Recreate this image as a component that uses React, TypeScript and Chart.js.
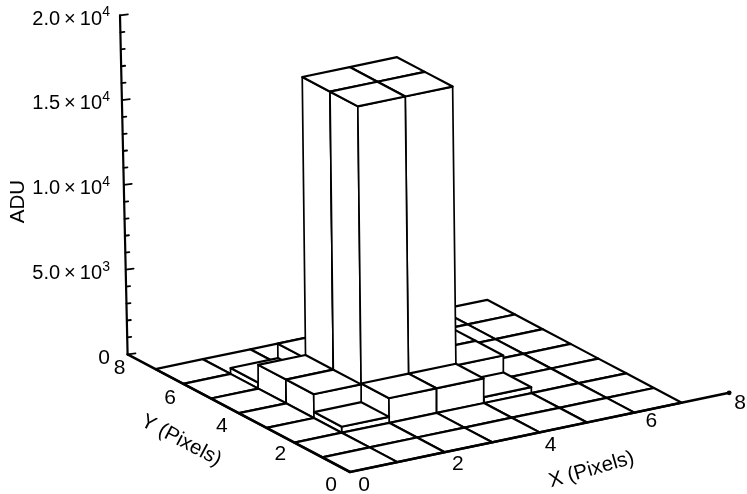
import React, { useEffect, useRef } from "react";
import { Chart, registerables } from "chart.js";

Chart.register(...registerables);

// ADU per detector cell; rows run y = 0..6, columns x = 0..6
const rowY0 = [0, 0, 0, 0, 0, 0, 0];
const rowY1 = [0, 0, 0, 0, 0, 0, 0];
const rowY2 = [0, 350, 1450, 1450, 350, 0, 0];
const rowY3 = [0, 1400, 17800, 17800, 1350, 0, 0];
const rowY4 = [0, 1400, 17800, 17800, 1350, 0, 0];
const rowY5 = [0, 350, 1200, 1250, 350, 0, 0];
const rowY6 = [0, 0, 0, 0, 0, 0, 0];
const rows = [rowY0, rowY1, rowY2, rowY3, rowY4, rowY5, rowY6];

const zMajorTicks = [0, 5000, 10000, 15000, 20000];
const zMinorTicks = [1000, 2000, 3000, 4000, 6000, 7000, 8000, 9000, 11000, 12000, 13000, 14000, 16000, 17000, 18000, 19000];
const zTickMantissa = ["0", "5.0", "1.0", "1.5", "2.0"];
const zTickExponent = ["", "3", "4", "4", "4"];
const xTickLabels = [0, 2, 4, 6, 8];
const yTickLabels = [0, 2, 4, 6, 8];
const axisMax = 8;

// oblique projection of (x, y, adu) onto the page plane
const view = { ox: 350, oy: 472, xx: 47.4, xy: -9.9, yx: -27.8, yy: -14.7, zy: -0.01695, barLean: -0.0002, axisLean: -0.00038 };

// label nudges from their tick, same order as the tick label lists
const xLabelDx = [14, 13, 11, 17, 11];
const xLabelDy = [11, 10, 11, 7, 9];
const yLabelDx = [-19, -14, -17, -13, -8];
const yLabelDy = [11, 10, 11, 13, 12];

type P = { x: number; y: number };
const project = (x: number, y: number, z = 0, lean = view.barLean): P => ({
  x: view.ox + view.xx * x + view.yx * y + lean * z,
  y: view.oy + view.xy * x + view.yy * y + view.zy * z,
});

const poly = (pts: P[], width: number) => ({
  data: [...pts, pts[0]],
  borderColor: "#000000",
  backgroundColor: "#ffffff",
  borderWidth: width,
  fill: "shape",
  tension: 0,
  pointRadius: 0,
  showLine: true,
  borderJoinStyle: "round",
});
const stroke = (pts: P[], width: number) => ({
  data: pts,
  borderColor: "#000000",
  borderWidth: width,
  fill: false,
  tension: 0,
  pointRadius: 0,
  showLine: true,
  borderCapStyle: "round",
});

function buildDatasets() {
  const drawn: any[] = [];
  const cells: { x: number; y: number; h: number }[] = [];
  rows.forEach((row, y) => row.forEach((h, x) => cells.push({ x, y, h })));
  cells.sort((a, b) => b.x + b.y - (a.x + a.y));
  for (const { x, y, h } of cells) {
    if (h > 0) {
      drawn.push(poly([project(x, y), project(x, y + 1), project(x, y + 1, h), project(x, y, h)], 1.7));
      drawn.push(poly([project(x, y), project(x + 1, y), project(x + 1, y, h), project(x, y, h)], 1.7));
    }
    drawn.push(poly([project(x, y, h), project(x + 1, y, h), project(x + 1, y + 1, h), project(x, y + 1, h)], 2.2));
  }
  // axes
  drawn.push(stroke([project(0, 0), project(axisMax, 0)], 2.6));
  drawn.push(stroke([project(0, 0), project(0, axisMax)], 2.6));
  drawn.push(stroke([project(0, axisMax, 0, 0), project(0, axisMax, zMajorTicks[4], view.axisLean)], 2.2));
  for (const z of zMajorTicks) {
    const a = project(0, axisMax, z, view.axisLean);
    drawn.push(stroke([a, { x: a.x + 8, y: a.y - 1 }], 1.6));
  }
  for (const z of zMinorTicks) {
    const a = project(0, axisMax, z, view.axisLean);
    drawn.push(stroke([a, { x: a.x + 4, y: a.y - 0.5 }], 1.8));
  }
  // arrow head at the end of the X axis
  const tip = project(axisMax, 0);
  drawn.push({
    data: [tip],
    pointStyle: "circle",
    pointRadius: 2.4,
    pointBackgroundColor: "#000000",
    pointBorderWidth: 0,
    showLine: false,
  });
  return drawn.reverse();
}

const FONT = '"Liberation Sans", Arial, sans-serif';

const labelsPlugin = {
  id: "pictureLabels",
  afterDatasetsDraw(chart: any) {
    const { ctx, scales } = chart;
    const px = (p: P) => ({ x: scales.x.getPixelForValue(p.x), y: scales.y.getPixelForValue(p.y) });
    // cy is the vertical centre of the digits / capitals
    const put = (text: string, x: number, cy: number, size: number) => {
      ctx.font = `${size}px ${FONT}`;
      ctx.fillText(text, x, cy + size * 0.36);
    };
    ctx.save();
    ctx.fillStyle = "#000";
    ctx.textBaseline = "alphabetic";
    ctx.textAlign = "center";
    xTickLabels.forEach((v, i) => {
      const p = px(project(v, 0));
      put(String(v), p.x + xLabelDx[i], p.y + xLabelDy[i], 21);
    });
    yTickLabels.forEach((v, i) => {
      const p = px(project(0, v));
      put(String(v), p.x + yLabelDx[i], p.y + yLabelDy[i], 21);
    });
    ctx.textAlign = "right";
    zMajorTicks.forEach((z, i) => {
      const p = px(project(0, axisMax, z, view.axisLean));
      const right = 110;
      const y = p.y + 2;
      if (!zTickExponent[i]) {
        put(zTickMantissa[i], right, y, 21);
        return;
      }
      put(zTickExponent[i], right, y - 6, 14);
      put(`${zTickMantissa[i]}\u2009\u00d7\u200910`, right - 8, y, 20);
    });
    ctx.textAlign = "center";
    const rotated = (text: string, x: number, y: number, deg: number) => {
      ctx.save();
      ctx.translate(x, y);
      ctx.rotate((deg * Math.PI) / 180);
      put(text, 0, 0, 20.5);
      ctx.restore();
    };
    rotated("ADU", 16.5, 201.5, -90);
    rotated("X (Pixels)", 591, 468, -16);
    rotated("Y (Pixels)", 182, 439, 28);
    ctx.restore();
  },
};

export default function App() {
  const ref = useRef<HTMLCanvasElement>(null);
  useEffect(() => {
    const chart = new Chart(ref.current as HTMLCanvasElement, {
      type: "scatter",
      data: { datasets: buildDatasets() as any },
      options: {
        animation: false,
        responsive: false,
        devicePixelRatio: 1,
        layout: { padding: 0, autoPadding: false },
        events: [],
        scales: {
          x: { type: "linear", min: 0, max: 747, display: false },
          y: { type: "linear", min: 0, max: 494, reverse: true, display: false },
        },
        plugins: {
          legend: { display: false },
          tooltip: { enabled: false },
          filler: { drawTime: "beforeDatasetDraw", propagate: false },
        } as any,
      },
      plugins: [labelsPlugin as any],
    });
    return () => chart.destroy();
  }, []);
  return (
    <div style={{ position: "fixed", left: 0, top: 0, width: 747, height: 494, background: "#fff" }}>
      <canvas ref={ref} width={747} height={494} style={{ display: "block" }} />
    </div>
  );
}
